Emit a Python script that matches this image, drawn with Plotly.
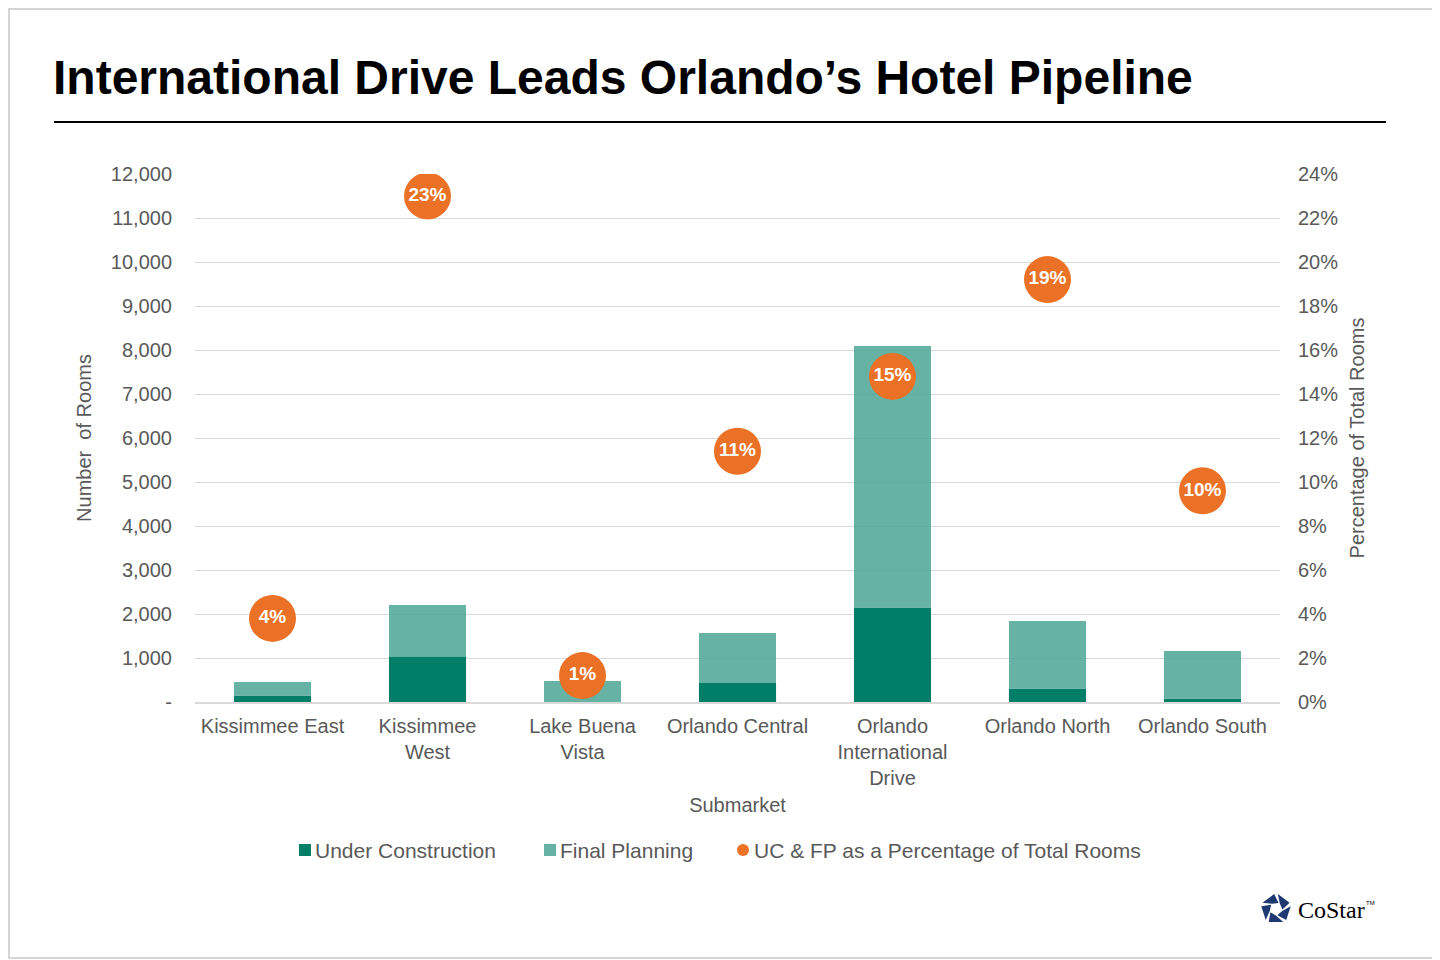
import math
import plotly.graph_objects as go

# Orlando hotel pipeline by submarket (rooms) and share of total rooms
submarkets = ["Kissimmee East", "Kissimmee<br>West", "Lake Buena<br>Vista", "Orlando Central",
              "Orlando<br>International<br>Drive", "Orlando North", "Orlando South"]
under_construction = [159, 1023, 0, 432, 2159, 318, 91]
final_planning = [296, 1182, 477, 1136, 5932, 1523, 1068]
pct_total = [0.038, 0.230, 0.012, 0.114, 0.148, 0.192, 0.096]
pct_labels = ["4%", "23%", "1%", "11%", "15%", "19%", "10%"]
left_ticks = [0, 1000, 2000, 3000, 4000, 5000, 6000, 7000, 8000, 9000, 10000, 11000, 12000]
left_ticktext = ["-"] + ["{:,}".format(v) for v in left_ticks[1:]]

FONT = "Liberation Sans, Arial, sans-serif"
GREY = "#595959"
UC_COL, FP_COL, PCT_COL = "#007e67", "rgba(75,164,148,0.85)", "#ea7125"

# page puts the figure 8px in from the corner, so work in screen pixels
OFF = 8
L, T, W, H = 187, 166, 1085, 528

def pxx(x):
    return (x - OFF - L) / W

def pxy(y):
    return 1 - (y - OFF - T) / H

fig = go.Figure()
fig.add_trace(go.Bar(x=submarkets, y=under_construction, name="Under Construction",
                     marker_color=UC_COL, width=0.5, showlegend=False))
fig.add_trace(go.Bar(x=submarkets, y=final_planning, name="Final Planning",
                     marker_color=FP_COL, marker_line_width=0, width=0.5, showlegend=False))
fig.add_trace(go.Scatter(x=submarkets, y=pct_total, yaxis="y2", mode="markers+text",
                         name="UC & FP as a Percentage of Total Rooms", showlegend=False,
                         marker=dict(color=PCT_COL, size=47),
                         text=pct_labels, textposition="middle center",
                         textfont=dict(color="white", size=19, family=FONT, weight="bold")))

fig.update_layout(
    width=1440, height=960,
    barmode="stack",
    plot_bgcolor="white", paper_bgcolor="white",
    margin=dict(l=L, r=1440 - L - W, t=T, b=960 - T - H, autoexpand=False),
    font=dict(family=FONT, size=20, color=GREY),
    showlegend=False,
    xaxis=dict(range=[-0.5, 6.5], title=dict(text="Submarket", standoff=10, font=dict(size=20, color=GREY)),
               showline=True, linecolor="#d9d9d9", linewidth=1.5, ticks="",
               ticklabelstandoff=5, automargin=False, tickfont=dict(size=20, color=GREY)),
    yaxis=dict(range=[0, 12000], tickvals=left_ticks, ticktext=left_ticktext,
               showgrid=True, gridcolor="#d9d9d9", gridwidth=1, zeroline=False,
               ticklabelstandoff=22, automargin=False, tickfont=dict(size=20, color=GREY),
               title=dict(text="Number  of Rooms", font=dict(size=20, color=GREY), standoff=13)),
    yaxis2=dict(range=[0, 0.24], dtick=0.02, tickformat=".0%", overlaying="y", side="right",
                showgrid=False, zeroline=False, ticklabelstandoff=17, automargin=False,
                tickfont=dict(size=20, color=GREY),
                title=dict(text="Percentage of Total Rooms", font=dict(size=20, color=GREY), standoff=12)),
)

# title and rule
fig.add_annotation(text="<b>International Drive Leads Orlando’s Hotel Pipeline</b>",
                   xref="paper", yref="paper", x=pxx(51), y=pxy(78), xanchor="left", yanchor="middle",
                   showarrow=False, font=dict(size=48, color="black", family=FONT))
fig.add_shape(type="line", xref="paper", yref="paper", x0=pxx(54), x1=pxx(1386), y0=pxy(122), y1=pxy(122),
              line=dict(color="black", width=2))
# image border
fig.add_shape(type="rect", xref="paper", yref="paper", x0=pxx(9), x1=pxx(1438), y0=pxy(958), y1=pxy(9),
              line=dict(color="#c8c8c8", width=1.5))

# legend drawn by hand to match spacing
legend_items = [("Under Construction", UC_COL, "rect", 305, 313),
                ("Final Planning", "#66b2a4", "rect", 550, 558),
                ("UC & FP as a Percentage of Total Rooms", PCT_COL, "circle", 743, 752)]
for name, col, kind, mx, tx in legend_items:
    fig.add_shape(type=kind, xref="paper", yref="paper", x0=pxx(mx - 6), x1=pxx(mx + 6),
                  y0=pxy(856), y1=pxy(844), fillcolor=col, line=dict(width=0))
    fig.add_annotation(text=name, xref="paper", yref="paper", x=pxx(tx), y=pxy(850),
                       xanchor="left", yanchor="middle", showarrow=False,
                       font=dict(size=21, color=GREY, family=FONT))

# CoStar mark
fig.add_annotation(text="CoStar", xref="paper", yref="paper", x=pxx(1296), y=pxy(910),
                   xanchor="left", yanchor="middle", showarrow=False,
                   font=dict(size=24, color="black", family="Liberation Serif, serif"))
fig.add_annotation(text="TM", xref="paper", yref="paper", x=pxx(1364), y=pxy(903),
                   xanchor="left", yanchor="middle", showarrow=False,
                   font=dict(size=6, color="black", family=FONT))
cx, cy, R, r = 1276, 909, 15, 6.5
path = ""
for k in range(5):
    a0 = math.radians(-90 + 72 * k + 7)
    a1 = math.radians(-90 + 72 * (k + 1) - 7)
    b0 = a0 + math.radians(30)
    b1 = a1 + math.radians(30)
    pts = [(cx + R * math.cos(a0), cy + R * math.sin(a0)), (cx + R * math.cos(a1), cy + R * math.sin(a1)),
           (cx + r * math.cos(b1), cy + r * math.sin(b1)), (cx + r * math.cos(b0), cy + r * math.sin(b0))]
    path += "M " + " L ".join("{:.5f},{:.5f}".format(pxx(x), pxy(y)) for x, y in pts) + " Z "
fig.add_shape(type="path", xref="paper", yref="paper", path=path, fillcolor="#1f3a73", line=dict(width=0))

fig.write_html("out.html")
